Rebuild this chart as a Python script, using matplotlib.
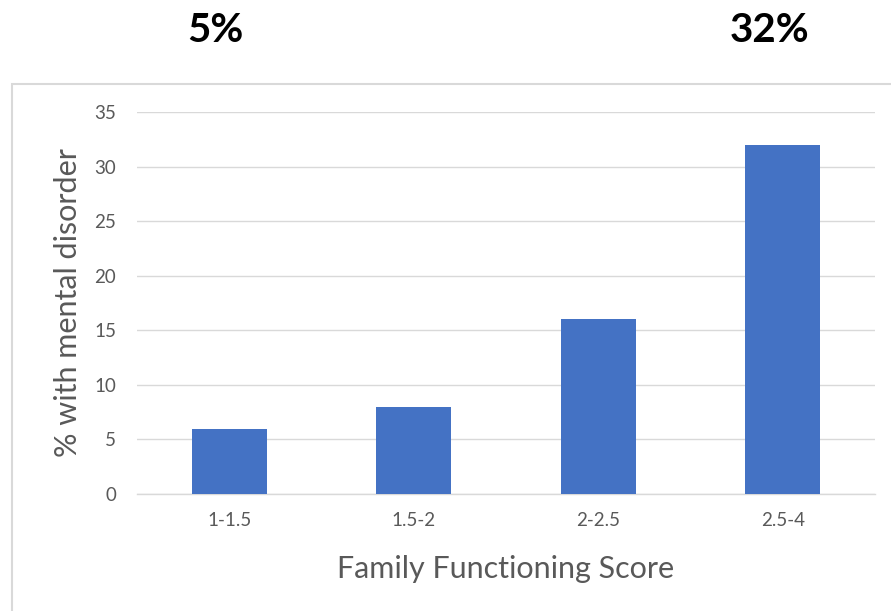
import matplotlib
matplotlib.use("Agg")
import matplotlib.pyplot as plt
from matplotlib.patches import Rectangle

categories = ["1-1.5", "1.5-2", "2-2.5", "2.5-4"]
values = [6, 8, 16, 32]
y_ticks = [0, 5, 10, 15, 20, 25, 30, 35]
headline_left = "5%"
headline_right = "32%"

plt.rcParams["font.family"] = ["Lato", "DejaVu Sans"]

W, H = 891, 611
fig = plt.figure(figsize=(W / 100, H / 100), dpi=100)
fig.patch.set_facecolor("white")

# chart frame
fig.add_artist(Rectangle((12 / W, -0.05), 1.0, (H - 84) / H + 0.05,
                         transform=fig.transFigure, fill=False,
                         edgecolor="#d9d9d9", linewidth=1.5))

ax = fig.add_axes([137 / W, (H - 494) / H, (875 - 137) / W, (494 - 112) / H])
x = range(len(categories))
ax.bar(x, values, width=0.405, color="#4472C4", zorder=3)
ax.set_xlim(-0.5, len(categories) - 0.5)
ax.set_ylim(0, 35)
ax.set_yticks(y_ticks)
ax.set_xticks(list(x))
ax.set_xticklabels(categories)
ax.grid(axis="y", color="#d9d9d9", linewidth=1, zorder=0)
for s in ["top", "right", "left"]:
    ax.spines[s].set_visible(False)
ax.spines["bottom"].set_color("#d9d9d9")
ax.spines["bottom"].set_linewidth(1)
ax.tick_params(axis="both", length=0, labelsize=13.5, colors="#595959")
ax.tick_params(axis="y", pad=15)
ax.tick_params(axis="x", pad=13)
ax.set_ylabel("% with mental disorder", fontsize=22, color="#595959", labelpad=9)
ax.set_xlabel("Family Functioning Score", fontsize=22, color="#595959", labelpad=19)

fig.text(215 / W, 1 - 30 / H, headline_left, fontsize=29, fontweight="bold",
         ha="center", va="center", color="black")
fig.text(770 / W, 1 - 30 / H, headline_right, fontsize=29, fontweight="bold",
         ha="center", va="center", color="black")

fig.savefig("out.png", dpi=100, facecolor="white")
